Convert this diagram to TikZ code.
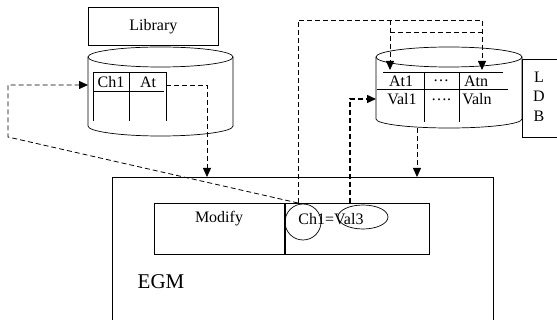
\documentclass[tikz,border=0pt]{standalone}
\usepackage{fontspec}
\setmainfont{Liberation Serif}
\usetikzlibrary{arrows.meta}
\begin{document}
\begin{tikzpicture}[x=1pt,y=-1pt, font=\fontsize{16}{18}\selectfont,
  dl/.style={dash pattern=on 5pt off 3pt, line width=0.8pt},
  dlb/.style={dash pattern=on 5pt off 3pt, line width=1.5pt},
  arr/.style={-{Triangle[length=9pt,width=8pt]}},
  ln/.style={line width=0.7pt},
  txt/.style={inner sep=0pt}]
\useasboundingbox (0,0) rectangle (557,320);
% Library box
\node[draw, ln, minimum width=130pt, minimum height=38pt, anchor=north west] (lib) at (88,7) {Library};
% Library cylinder
\draw[ln] (160.5,57) ellipse [x radius=72.5pt, y radius=10pt];
\draw[ln] (88,57) -- (88,126) arc[start angle=180, end angle=360, x radius=72.5pt, y radius=10pt] -- (233,57);
% Library table
\draw[ln] (93,72) -- (166,72);
\draw[ln] (94,91) -- (164,91);
\draw[ln] (93,72) -- (93,121);
\draw[ln] (129,72) -- (129,121);
\draw[ln] (166,72) -- (166,121);
\node[txt] (ch) at (111,82) {Ch1};
\node[txt] (at) at (148,82) {At};
\coordinate (libL) at (88,85);
\coordinate (libR) at (166,85);
% LDB cylinder
\draw[ln] (449,57) ellipse [x radius=73pt, y radius=10pt];
\draw[ln] (376,57) -- (376,119) arc[start angle=180, end angle=360, x radius=73pt, y radius=9pt] -- (522,57);
% LDB table
\draw[ln] (383,72) -- (503,72);
\draw[ln] (377,89) -- (508,89);
\draw[ln] (424,72) -- (424,122);
\draw[ln] (459,72) -- (459,122);
\node[txt] (at1) at (401,81) {At1};
\node[txt] (d1) at (441,81) {\dots};
\node[txt] (atn) at (476,81) {Atn};
\node[txt] (v1) at (402,99) {Val1};
\node[txt] (d2) at (441,100) {\dots.};
\node[txt] (vn) at (477,99) {Valn};
\coordinate (ldbV) at (376,99);
\coordinate (ldbA1) at (390,70);
\coordinate (ldbAn) at (482,70);
\coordinate (ldbB) at (417,128);
% LDB box
\draw[ln] (560,59) -- (522,59) -- (522,137) -- (560,137);
\node[txt] (L) at (539,77) {L};
\node[txt] (D) at (539,96) {D};
\node[txt] (B) at (539,116) {B};
% EGM box
\draw[ln] (112,325) -- (112,177) -- (493,177) -- (493,325);
\node[txt, font=\fontsize{21}{24}\selectfont] (egm) at (161,282) {EGM};
\coordinate (egmL) at (207,177);
\coordinate (egmR) at (417,177);
% Modify box
\node[draw, ln, minimum width=275pt, minimum height=51pt, anchor=north west] (mod) at (154,203) {};
\draw[line width=1.3pt] (285,203) -- (285,254);
\node[txt] (modify) at (219,219) {Modify};
\node[txt] (cv) at (331,219) {Ch1=Val3};
\draw[ln] (303,222) circle [radius=18pt];
\draw[ln] (363,217) ellipse [x radius=25pt, y radius=12pt];
\coordinate (c1) at (298,203);
\coordinate (c2) at (350,203);
% connectors
\draw[dl, arr] (c1) -- (8,137) -- (8,85) -- (libL);
\draw[dl, arr] (libR) -- (207,85) -- (egmL);
\draw[dl, arr] (ldbB) -- (egmR);
\draw[dl, arr] (c1) -- (298,20) -- (482,20) -- (ldbAn);
\draw[dl, arr] (390,20) -- (ldbA1);
\draw[dl] (390,32) -- (482,32);
\draw[dlb, arr] (c2) -- (350,99) -- (ldbV);
\end{tikzpicture}
\end{document}
